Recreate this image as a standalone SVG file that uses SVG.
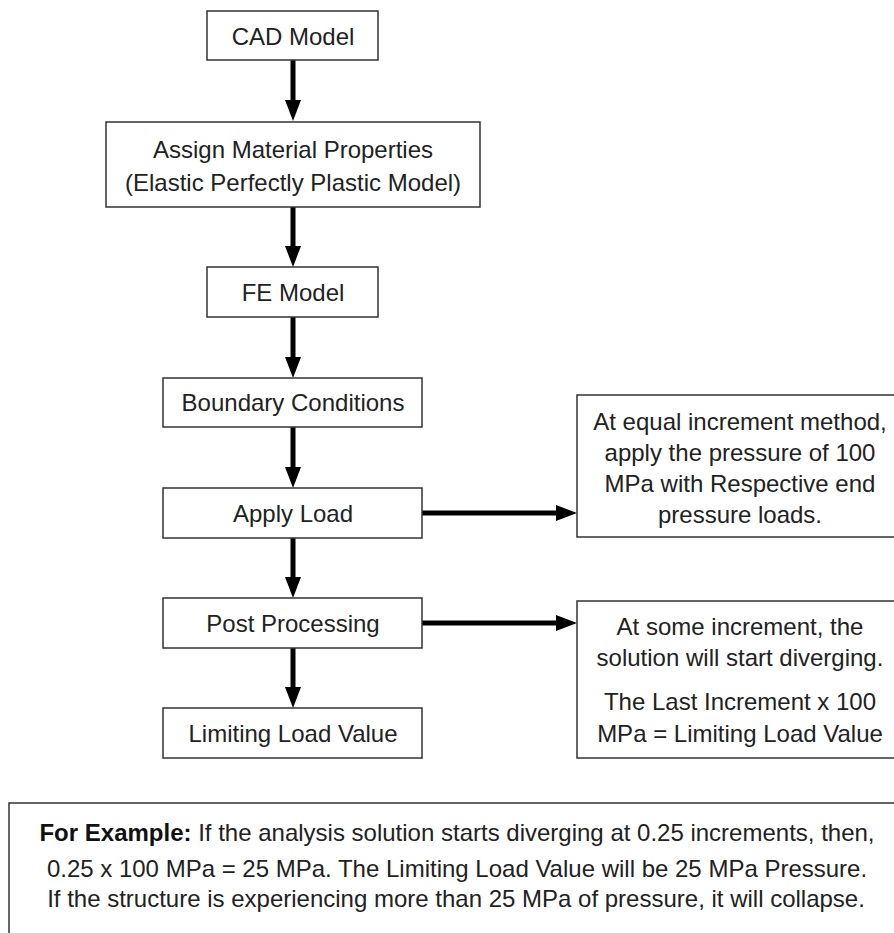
<svg xmlns="http://www.w3.org/2000/svg" width="894" height="933" viewBox="0 0 894 933">
<defs>
<style>
.box{fill:#fff;stroke:#333;stroke-width:1.5}
.t{font-family:"Liberation Sans",Arial,Helvetica,sans-serif;font-size:24px;fill:#222;text-anchor:middle}
.b{font-weight:bold;fill:#111}
.c{stroke:#000;stroke-width:5;fill:none}
</style>
<marker id="ah" markerUnits="userSpaceOnUse" markerWidth="22" markerHeight="16" refX="1" refY="8" orient="auto">
<path d="M0,0 L21,8 L0,16 Z" fill="#000"/>
</marker>
</defs>
<rect width="894" height="933" fill="#fff"/>
<g id="connectors">
<line class="c" x1="293" y1="60" x2="293" y2="101" marker-end="url(#ah)"/>
<line class="c" x1="293" y1="207" x2="293" y2="247" marker-end="url(#ah)"/>
<line class="c" x1="293" y1="317" x2="293" y2="358" marker-end="url(#ah)"/>
<line class="c" x1="293" y1="427" x2="293" y2="468" marker-end="url(#ah)"/>
<line class="c" x1="293" y1="538" x2="293" y2="578" marker-end="url(#ah)"/>
<line class="c" x1="293" y1="648" x2="293" y2="688" marker-end="url(#ah)"/>
<line class="c" x1="422" y1="513" x2="557" y2="513" marker-end="url(#ah)"/>
<line class="c" x1="422" y1="623" x2="557" y2="623" marker-end="url(#ah)"/>
</g>
<g id="cad">
<rect class="box" x="207" y="11" width="171" height="49"/>
<text class="t" x="293" y="45">CAD Model</text>
</g>
<g id="assign">
<rect class="box" x="106" y="122" width="374" height="85"/>
<text class="t" x="293" y="158">Assign Material Properties</text>
<text class="t" x="293" y="191">(Elastic Perfectly Plastic Model)</text>
</g>
<g id="fe">
<rect class="box" x="207" y="267" width="171" height="50"/>
<text class="t" x="293" y="301">FE Model</text>
</g>
<g id="boundary">
<rect class="box" x="163" y="378" width="259" height="49"/>
<text class="t" x="293" y="411">Boundary Conditions</text>
</g>
<g id="apply">
<rect class="box" x="163" y="488" width="259" height="50"/>
<text class="t" x="293" y="522">Apply Load</text>
</g>
<g id="post">
<rect class="box" x="163" y="598" width="259" height="50"/>
<text class="t" x="293" y="632">Post Processing</text>
</g>
<g id="limiting">
<rect class="box" x="163" y="708" width="259" height="50"/>
<text class="t" x="293" y="742">Limiting Load Value</text>
</g>
<g id="note1">
<rect class="box" x="577" y="395" width="327" height="142"/>
<text class="t" x="740" y="430">At equal increment method,</text>
<text class="t" x="740" y="461">apply the pressure of 100</text>
<text class="t" x="740" y="492">MPa with Respective end</text>
<text class="t" x="740" y="523">pressure loads.</text>
</g>
<g id="note2">
<rect class="box" x="577" y="601" width="327" height="157"/>
<text class="t" x="740" y="635">At some increment, the</text>
<text class="t" x="740" y="666">solution will start diverging.</text>
<text class="t" x="740" y="710">The Last Increment x 100</text>
<text class="t" x="740" y="742">MPa = Limiting Load Value</text>
</g>
<g id="example">
<rect class="box" x="9" y="803" width="900" height="150"/>
<text class="t" x="457" y="841"><tspan class="b">For Example:</tspan> If the analysis solution starts diverging at 0.25 increments, then,</text>
<text class="t" x="457" y="877">0.25 x 100 MPa = 25 MPa. The Limiting Load Value will be 25 MPa Pressure.</text>
<text class="t" x="456" y="907">If the structure is experiencing more than 25 MPa of pressure, it will collapse.</text>
</g>
</svg>
